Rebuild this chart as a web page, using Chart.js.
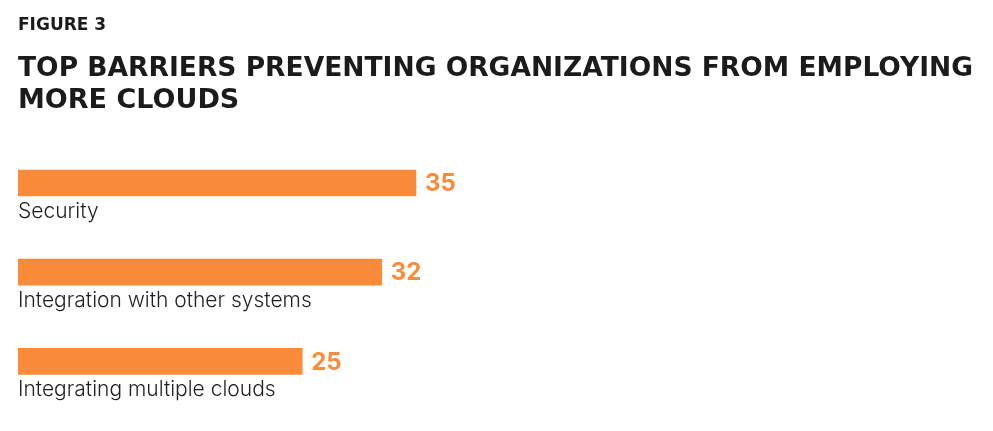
<!DOCTYPE html>
<html>
<head>
<meta charset="utf-8">
<script src="https://cdn.jsdelivr.net/npm/chart.js@4.4.1/dist/chart.umd.min.js"></script>
<style>
  html, body { margin: 0; padding: 0; background: #fff; }
  #wrap { position: relative; width: 993px; height: 431px; }
</style>
</head>
<body>
<div id="wrap"><canvas id="barrierChart"></canvas></div>
<script>
const figureLabel = "FIGURE 3";
const titleLines = [
  "TOP BARRIERS PREVENTING ORGANIZATIONS FROM EMPLOYING",
  "MORE CLOUDS",
];
const barriers = [
  "Security",
  "Integration with other systems",
  "Integrating multiple clouds",
];
const percents = [35, 32, 25];

const orange = "#f98b3b";

// value at the end of each bar + category name under it
const barText = {
  id: "barText",
  afterDatasetsDraw(chart) {
    const ctx = chart.ctx;
    const meta = chart.getDatasetMeta(0);
    const left = chart.chartArea.left;
    ctx.save();
    meta.data.forEach((bar, i) => {
      const half = bar.height / 2;
      ctx.fillStyle = orange;
      ctx.font = "bold 24px 'Inter', sans-serif";
      ctx.textAlign = "left";
      ctx.textBaseline = "middle";
      ctx.fillText(percents[i], bar.x + 9, bar.y + 1);

      ctx.fillStyle = "#231f20";
      ctx.font = "300 21px 'Inter', sans-serif";
      ctx.textBaseline = "top";
      ctx.fillText(barriers[i], left, bar.y + half + 5);
    });
    ctx.restore();
  },
};

new Chart(document.getElementById("barrierChart"), {
  type: "bar",
  data: {
    labels: barriers,
    datasets: [
      {
        data: percents,
        backgroundColor: orange,
        borderWidth: 0,
        barThickness: 26,
      },
    ],
  },
  options: {
    indexAxis: "y",
    responsive: true,
    maintainAspectRatio: false,
    animation: false,
    layout: { padding: { left: 18, right: 20, top: 0, bottom: 25 } },
    scales: {
      x: { display: false, min: 0, max: 84 },
      y: { display: false },
    },
    plugins: {
      legend: { display: false },
      tooltip: { enabled: false },
      title: {
        display: true,
        text: figureLabel,
        align: "start",
        color: "#1d1a1b",
        font: { family: "'DejaVu Sans', sans-serif", size: 17, weight: "bold" },
        padding: { top: 15, bottom: 0 },
      },
      subtitle: {
        display: true,
        text: titleLines,
        align: "start",
        color: "#1d1a1b",
        font: { family: "'DejaVu Sans', sans-serif", size: 27, weight: "bold", lineHeight: 1.185 },
        padding: { top: 18, bottom: 21 },
      },
    },
  },
  plugins: [barText],
});
</script>
</body>
</html>
